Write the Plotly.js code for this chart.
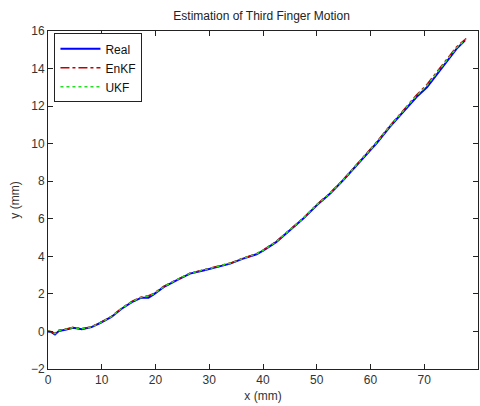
<!DOCTYPE html>
<html>
<head>
<meta charset="utf-8">
<script src="https://cdn.plot.ly/plotly-3.0.1.min.js"></script>
<style>html,body{margin:0;padding:0;background:#fff;}#chart{width:480px;height:406px;}</style>
</head>
<body>
<div id="chart"></div>
<script>
const xReal = [0,0.7,1.3,2,3.2,4.7,6.3,8.1,9.7,11.8,13.7,15.6,17.4,18.7,19.8,21.5,23.9,26.4,28.9,31.4,33.9,36.3,38.8,40.1,42.5,45.0,47.5,50.0,52.5,54.9,57.4,59.9,61.2,63.6,66.1,68.6,70.5,72.3,74.2,76.0,77.6];
const yReal = [0,-0.05,-0.16,0.02,0.09,0.2,0.12,0.23,0.45,0.77,1.21,1.56,1.8,1.8,2.0,2.36,2.72,3.08,3.25,3.43,3.61,3.88,4.11,4.32,4.77,5.39,6.01,6.72,7.35,8.05,8.85,9.65,10.05,10.9,11.7,12.5,13.0,13.65,14.4,15.05,15.5];
const xEnKF = [0,0.7,1.3,2,3.2,4.7,6.3,8.1,9.7,11.8,13.7,15.6,17.4,18.7,19.8,21.5,23.9,26.4,28.9,31.4,33.9,36.3,38.8,40.1,42.5,45.0,47.5,50.0,52.5,54.9,57.4,59.9,61.2,63.6,66.1,68.6,70.5,72.3,74.2,76.0,77.8];
const yEnKF = [0.02,-0.02,-0.1,0.06,0.12,0.22,0.15,0.25,0.47,0.8,1.24,1.6,1.84,1.9,2.04,2.4,2.75,3.1,3.28,3.45,3.64,3.9,4.14,4.34,4.8,5.42,6.04,6.75,7.38,8.08,8.88,9.7,10.1,10.95,11.78,12.6,13.15,13.8,14.55,15.15,15.6];
const xUKF = [0,0.7,1.3,2,3.2,4.7,6.3,8.1,9.7,11.8,13.7,15.6,17.4,18.7,19.8,21.5,23.9,26.4,28.9,31.4,33.9,36.3,38.8,40.1,42.5,45.0,47.5,50.0,52.5,54.9,57.4,59.9,61.2,63.6,66.1,68.6,70.5,72.3,74.2,76.0,77.7];
const yUKF = [0.01,-0.03,-0.12,0.04,0.11,0.21,0.14,0.24,0.46,0.79,1.23,1.58,1.82,1.87,2.02,2.38,2.74,3.09,3.27,3.44,3.63,3.89,4.13,4.33,4.79,5.41,6.03,6.74,7.37,8.07,8.87,9.68,10.08,10.93,11.75,12.56,13.1,13.75,14.5,15.1,15.55];

const data = [
  {x: xReal, y: yReal, name: 'Real', mode: 'lines', line: {color: '#0000ff', width: 2, dash: 'solid'}},
  {x: xEnKF, y: yEnKF, name: 'EnKF', mode: 'lines', line: {color: '#bf0000', width: 1.5, dash: 'dashdot'}},
  {x: xUKF, y: yUKF, name: 'UKF', mode: 'lines', line: {color: '#22dd22', width: 1.5, dash: 'dot'}}
];

const axisCommon = {
  showline: true, linecolor: '#222', linewidth: 1, mirror: 'ticks',
  ticks: 'inside', ticklen: 5, tickcolor: '#222', tickwidth: 1,
  showgrid: false, zeroline: false,
  tickfont: {family: 'Liberation Sans, Arial, sans-serif', size: 12, color: '#333'}
};

const layout = {
  width: 480, height: 406,
  paper_bgcolor: '#fff', plot_bgcolor: '#fff',
  margin: {l: 48, r: 2, t: 31, b: 37},
  title: {text: 'Estimation of Third Finger Motion', x: 0.545, xanchor: 'center', y: 0.962, yanchor: 'middle',
          font: {family: 'Liberation Sans, Arial, sans-serif', size: 12, color: '#222'}},
  xaxis: Object.assign({}, axisCommon, {range: [0, 80], tickvals: [0,10,20,30,40,50,60,70,80],
          title: {text: 'x (mm)', standoff: 5, font: {family: 'Liberation Sans, Arial, sans-serif', size: 12, color: '#333'}}}),
  yaxis: Object.assign({}, axisCommon, {range: [-2, 16], tickvals: [-2,0,2,4,6,8,10,12,14,16],
          title: {text: 'y (mm)', standoff: 8, font: {family: 'Liberation Sans, Arial, sans-serif', size: 12, color: '#333'}}}),
  showlegend: true,
  legend: {x: 0.015, y: 0.993, xanchor: 'left', yanchor: 'top', bgcolor: '#fff', bordercolor: '#222', borderwidth: 1,
           font: {family: 'Liberation Sans, Arial, sans-serif', size: 12, color: '#111'},
           tracegroupgap: 0, itemwidth: 40}
};

Plotly.newPlot('chart', data, layout, {displayModeBar: false, staticPlot: true});
</script>
</body>
</html>
